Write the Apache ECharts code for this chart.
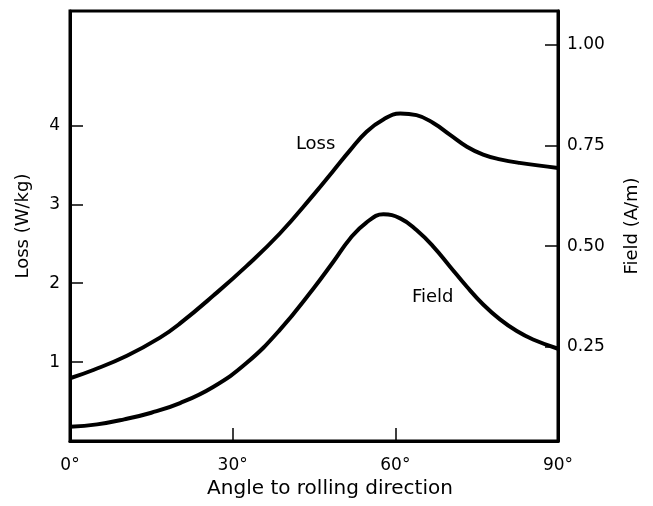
<!DOCTYPE html>
<html>
<head>
<meta charset="utf-8">
<script src="https://cdn.jsdelivr.net/npm/echarts@6/dist/echarts.min.js"></script>
<style>
html,body{margin:0;padding:0;background:#fff;}
#chart{width:653px;height:506px;}
</style>
</head>
<body>
<div id="chart"></div>
<script>
// Angle (degrees) for Loss curve
const lossAngles = [0, 4.3, 10.5, 16.6, 20.3, 26.4, 32.6, 38.7, 44.9, 48.5, 51.6, 54.7, 57.8, 60.9, 63.9, 67.0, 70.1, 73.2, 76.2, 79.3, 82.9, 90];
const lossValues = [0.795, 0.90, 1.08, 1.31, 1.49, 1.84, 2.22, 2.63, 3.12, 3.42, 3.68, 3.92, 4.075, 4.15, 4.13, 4.03, 3.88, 3.73, 3.63, 3.57, 3.525, 3.46];
// Angle (degrees) for Field curve
const fieldAngles = [0, 5, 10, 15, 20.3, 26.4, 32.6, 38.7, 44.9, 48.6, 51.6, 54.6, 57.8, 60.9, 63.9, 67.0, 70.1, 73.2, 76.2, 79.3, 82.4, 85.4, 90];
const fieldValues = [0.051, 0.057, 0.0695, 0.086, 0.11, 0.15, 0.21, 0.292, 0.395, 0.462, 0.518, 0.558, 0.579, 0.569, 0.540, 0.499, 0.449, 0.399, 0.355, 0.318, 0.289, 0.268, 0.245];
// Tick labels
const xTicks = [0, 30, 60, 90];
const xTickMarks = [30, 60];
const lossTicks = [1, 2, 3, 4];
const fieldTicks = [0.25, 0.5, 0.75, 1.0];
// Curve labels: [angle, value, text]
const lossLabel = [45.3, 3.76, 'Loss'];
const fieldLabel = [66.9, 0.372, 'Field'];

const FONT = 'DejaVu Sans';
const chart = echarts.init(document.getElementById('chart'), null, {renderer: 'canvas'});
const zip = (a, b) => a.map((v, i) => [v, b[i]]);

chart.setOption({
  animation: false,
  backgroundColor: '#fff',
  grid: {left: 70, right: 95, top: 11, bottom: 65, show: true, borderColor: '#000', borderWidth: 3, backgroundColor: 'transparent'},
  xAxis: {
    type: 'value', min: 0, max: 90,
    name: 'Angle to rolling direction', nameLocation: 'middle', nameGap: 27,
    nameTextStyle: {fontFamily: FONT, fontSize: 20, color: '#000', padding: [0, 0, 0, 32]},
    axisLine: {show: true, lineStyle: {color: '#000', width: 3}},
    axisTick: {show: true, inside: true, length: 13, customValues: xTickMarks, lineStyle: {color: '#000', width: 1.5}},
    axisLabel: {customValues: xTicks, formatter: v => v + '°', fontFamily: FONT, fontSize: 17, color: '#000', margin: 16},
    splitLine: {show: false}
  },
  yAxis: [{
    type: 'value', min: 0, max: 5.45, position: 'left',
    name: 'Loss (W/kg)', nameLocation: 'middle', nameGap: 38, nameRotate: 90,
    nameTextStyle: {fontFamily: FONT, fontSize: 18, color: '#000'},
    axisLine: {show: true, lineStyle: {color: '#000', width: 3}},
    axisTick: {show: true, inside: true, length: 13, customValues: lossTicks, lineStyle: {color: '#000', width: 1.5}},
    axisLabel: {customValues: lossTicks, fontFamily: FONT, fontSize: 17, color: '#000', margin: 10},
    splitLine: {show: false}
  }, {
    type: 'value', min: 0.0157, max: 1.0845, position: 'right',
    name: 'Field (A/m)', nameLocation: 'middle', nameGap: 65, nameRotate: 90,
    nameTextStyle: {fontFamily: FONT, fontSize: 18, color: '#000'},
    axisLine: {show: true, lineStyle: {color: '#000', width: 3}},
    axisTick: {show: true, inside: true, length: 13, customValues: fieldTicks, lineStyle: {color: '#000', width: 1.5}},
    axisLabel: {customValues: fieldTicks, formatter: v => v.toFixed(2), fontFamily: FONT, fontSize: 17, color: '#000', margin: 9},
    splitLine: {show: false}
  }],
  series: [{
    type: 'line', name: 'Loss', yAxisIndex: 0, smooth: 0.45, symbol: 'none',
    data: zip(lossAngles, lossValues),
    lineStyle: {color: '#000', width: 4}
  }, {
    type: 'line', name: 'Field', yAxisIndex: 1, smooth: 0.45, symbol: 'none',
    data: zip(fieldAngles, fieldValues),
    lineStyle: {color: '#000', width: 4}
  }]
});

// Curve name labels placed through the axes' own scales
const lp = chart.convertToPixel({xAxisIndex: 0, yAxisIndex: 0}, [lossLabel[0], lossLabel[1]]);
const fp = chart.convertToPixel({xAxisIndex: 0, yAxisIndex: 1}, [fieldLabel[0], fieldLabel[1]]);
chart.setOption({
  graphic: [
    {type: 'text', x: lp[0], y: lp[1], style: {text: lossLabel[2], fill: '#000', font: '18px "' + FONT + '"', align: 'center', verticalAlign: 'middle'}},
    {type: 'text', x: fp[0], y: fp[1], style: {text: fieldLabel[2], fill: '#000', font: '18px "' + FONT + '"', align: 'center', verticalAlign: 'middle'}}
  ]
});
</script>
</body>
</html>
